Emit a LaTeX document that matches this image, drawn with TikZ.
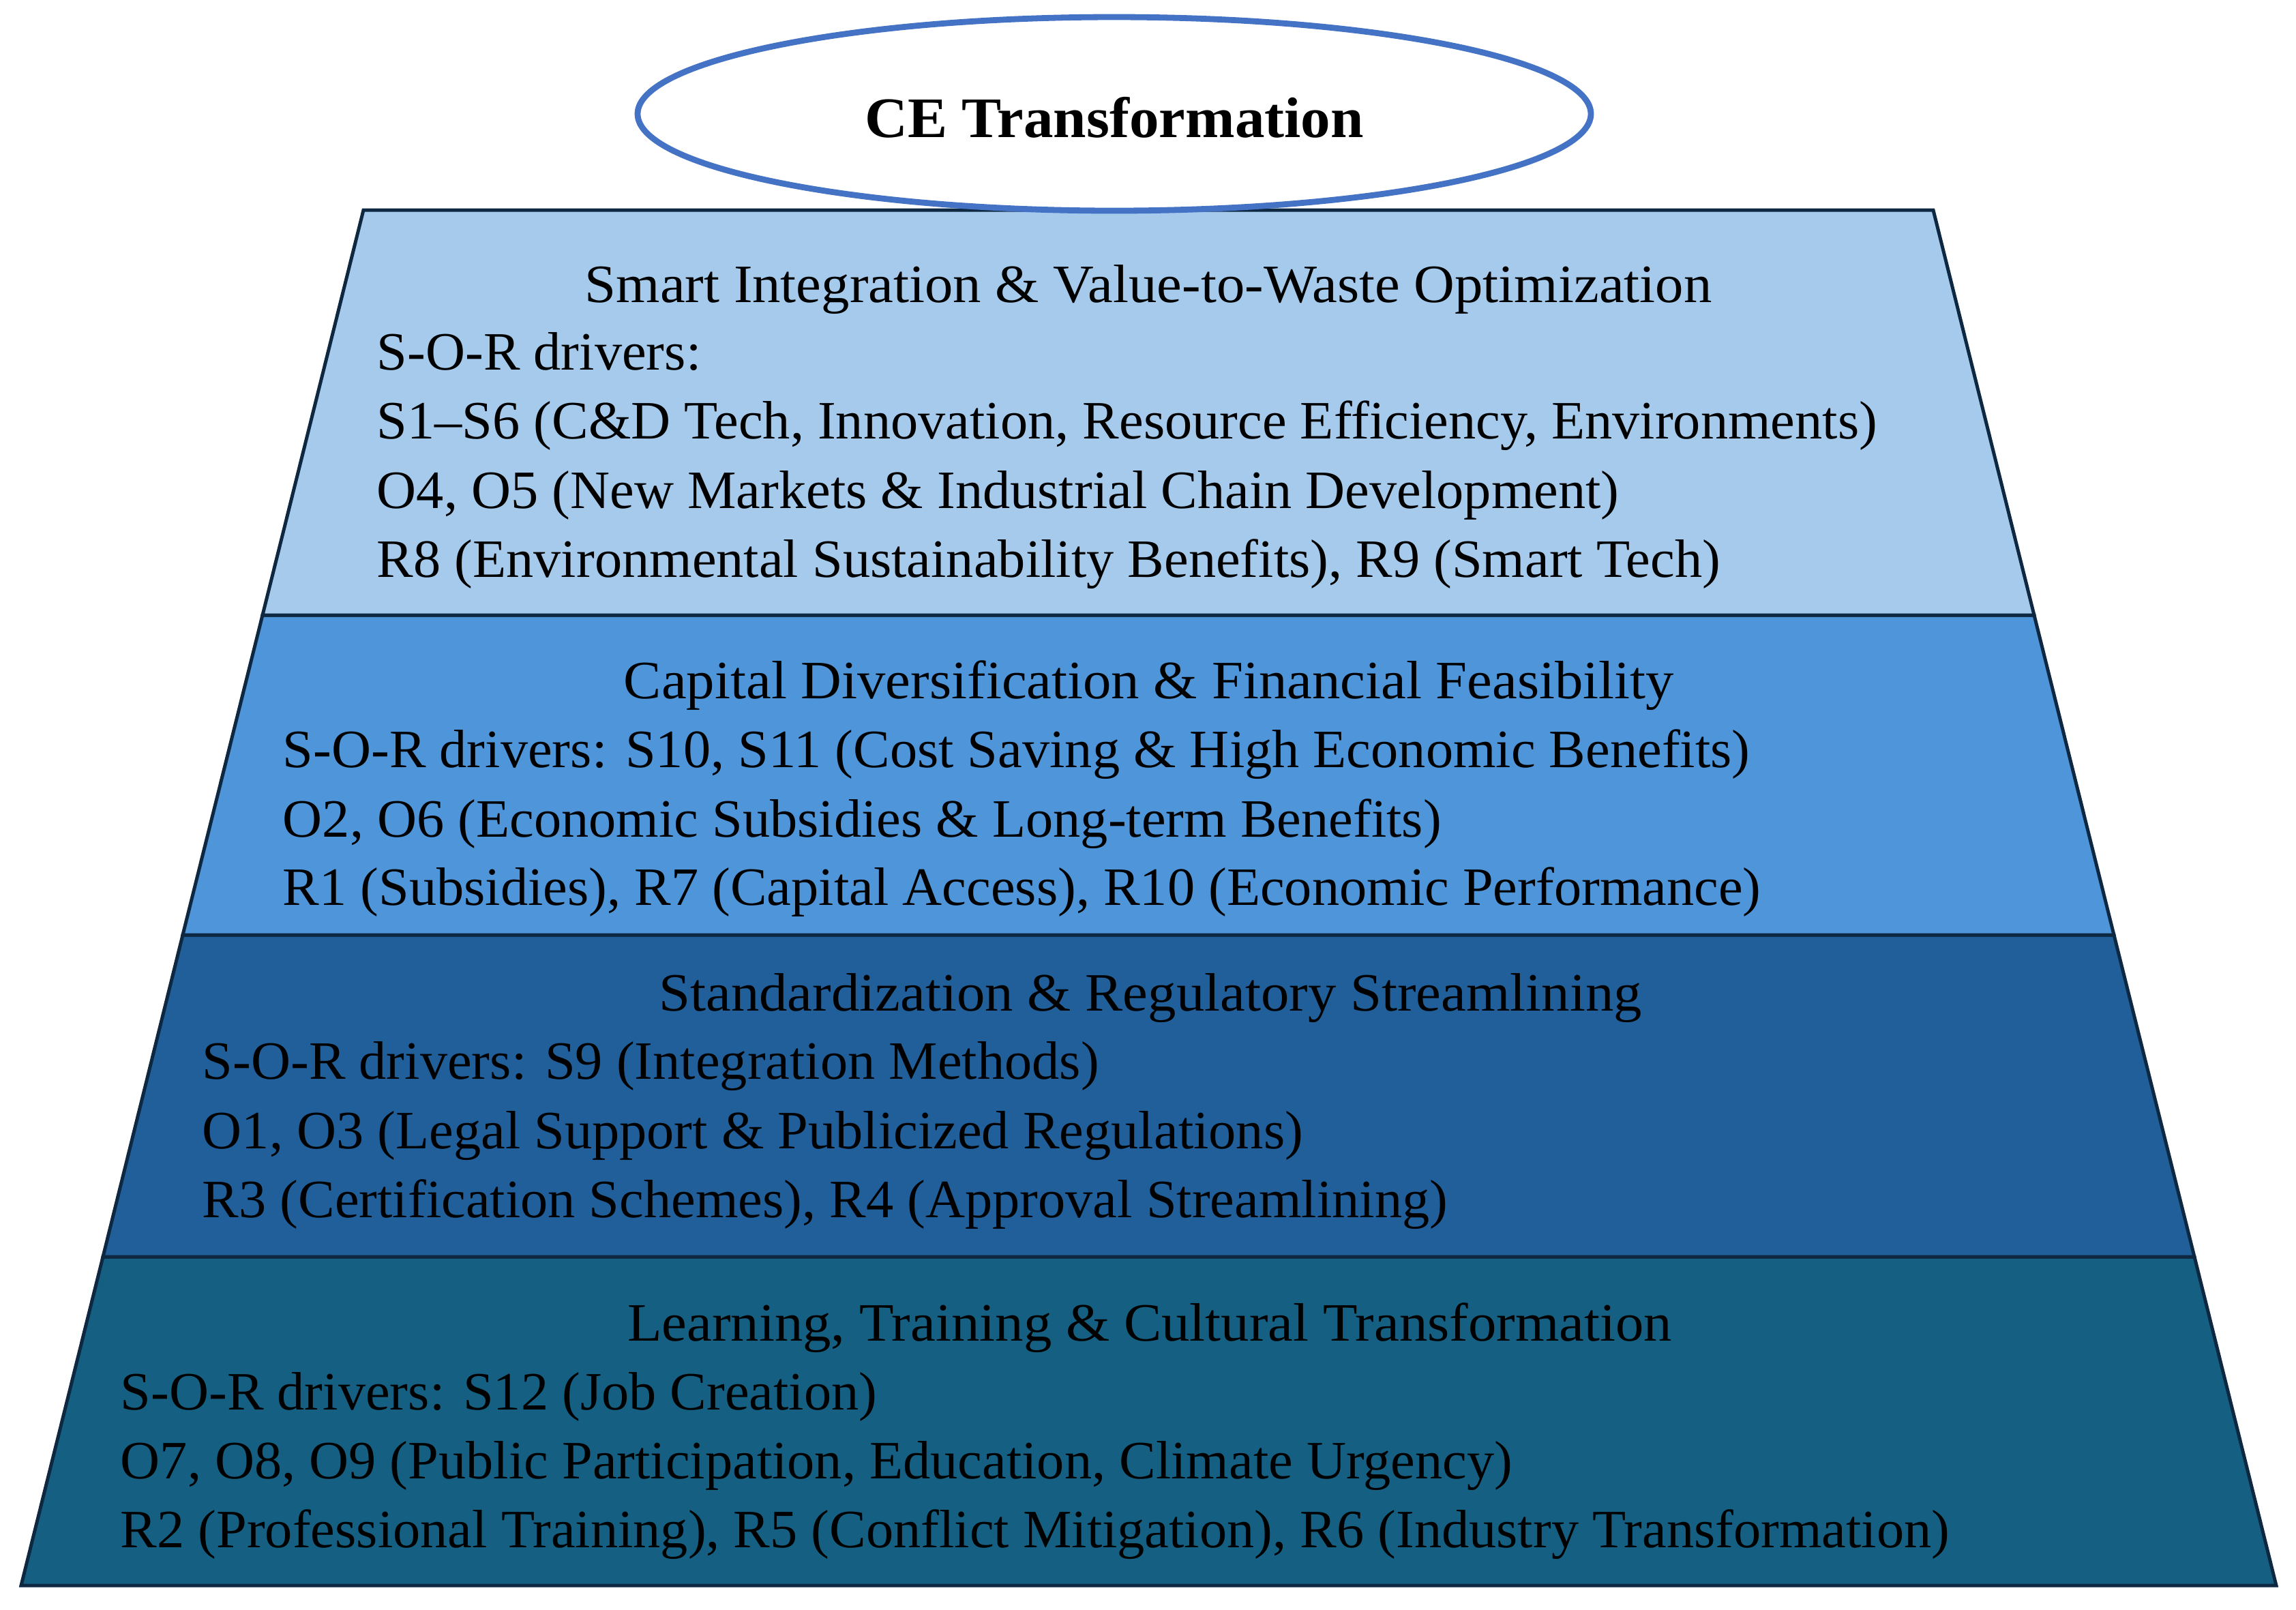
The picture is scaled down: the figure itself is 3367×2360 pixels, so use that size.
\documentclass[tikz,border=0pt]{standalone}
\usepackage{fontspec}
\setmainfont{Liberation Serif}[FakeStretch=1.015]
\newfontfamily\ttlfont{Liberation Serif}[FakeStretch=1.045]
\newfontfamily\cefont{Liberation Serif}[FakeStretch=1.037]
\definecolor{layerA}{HTML}{A6CAEC}
\definecolor{layerB}{HTML}{4E95D9}
\definecolor{layerC}{HTML}{205F99}
\definecolor{layerD}{HTML}{156082}
\definecolor{edgeC}{HTML}{0E2841}
\definecolor{ellC}{HTML}{4472C4}
\tikzset{
  layer/.style={draw=edgeC, line width=1.25pt, line join=miter},
  ttl/.style={anchor=base, inner sep=0pt, font=\ttlfont\fontsize{19.8}{23}\selectfont},
  txt/.style={anchor=base west, inner sep=0pt, font=\fontsize{19.8}{23}\selectfont},
}
\begin{document}
\begin{tikzpicture}[x=0.25pt,y=-0.25pt]
\useasboundingbox (0,0) rectangle (3367,2360);
% layers
\coordinate (tl) at (533,308);
\coordinate (tr) at (2835,308);
\coordinate (l1) at (385,902);
\coordinate (r1) at (2983,902);
\coordinate (l2) at (268,1371);
\coordinate (r2) at (3100,1371);
\coordinate (l3) at (151,1843);
\coordinate (r3) at (3218,1843);
\coordinate (bl) at (31,2325);
\coordinate (br) at (3338,2325);
\draw[layer, fill=layerD] (l3) -- (r3) -- (br) -- (bl) -- cycle;
\draw[layer, fill=layerC] (l2) -- (r2) -- (r3) -- (l3) -- cycle;
\draw[layer, fill=layerB] (l1) -- (r1) -- (r2) -- (l2) -- cycle;
\draw[layer, fill=layerA] (tl) -- (tr) -- (r1) -- (l1) -- cycle;
% ellipse
\draw[draw=ellC, line width=2.2pt, fill=white] (1634,167) ellipse [x radius=699, y radius=142];
\node[anchor=base, inner sep=0pt, font=\cefont\bfseries\fontsize{21}{25}\selectfont] (ce) at (1634,201) {CE Transformation};
% layer 1
\node[ttl] (t1) at (1684,443) {Smart Integration \& Value-to-Waste Optimization};
\node[txt] (a1) at (552,542) {S-O-R drivers:};
\node[txt] (a2) at (552,643) {S1–S6 (C\&D Tech, Innovation, Resource Efficiency, Environments)};
\node[txt] (a3) at (552,745) {O4, O5 (New Markets \& Industrial Chain Development)};
\node[txt] (a4) at (552,846) {R8 (Environmental Sustainability Benefits), R9 (Smart Tech)};
% layer 2
\node[ttl] (t2) at (1685,1024) {Capital Diversification \& Financial Feasibility};
\node[txt] (b1) at (414,1125) {S-O-R drivers: S10, S11 (Cost Saving \& High Economic Benefits)};
\node[txt] (b2) at (414,1227) {O2, O6 (Economic Subsidies \& Long-term Benefits)};
\node[txt] (b3) at (414,1327) {R1 (Subsidies), R7 (Capital Access), R10 (Economic Performance)};
% layer 3
\node[ttl] (t3) at (1687,1482) {Standardization \& Regulatory Streamlining};
\node[txt] (c1) at (296,1582) {S-O-R drivers: S9 (Integration Methods)};
\node[txt] (c2) at (296,1684) {O1, O3 (Legal Support \& Publicized Regulations)};
\node[txt] (c3) at (296,1785) {R3 (Certification Schemes), R4 (Approval Streamlining)};
% layer 4
\node[ttl] (t4) at (1686,1966) {Learning, Training \& Cultural Transformation};
\node[txt] (d1) at (176,2067) {S-O-R drivers: S12 (Job Creation)};
\node[txt] (d2) at (176,2168) {O7, O8, O9 (Public Participation, Education, Climate Urgency)};
\node[txt] (d3) at (176,2269) {R2 (Professional Training), R5 (Conflict Mitigation), R6 (Industry Transformation)};
\end{tikzpicture}
\end{document}
